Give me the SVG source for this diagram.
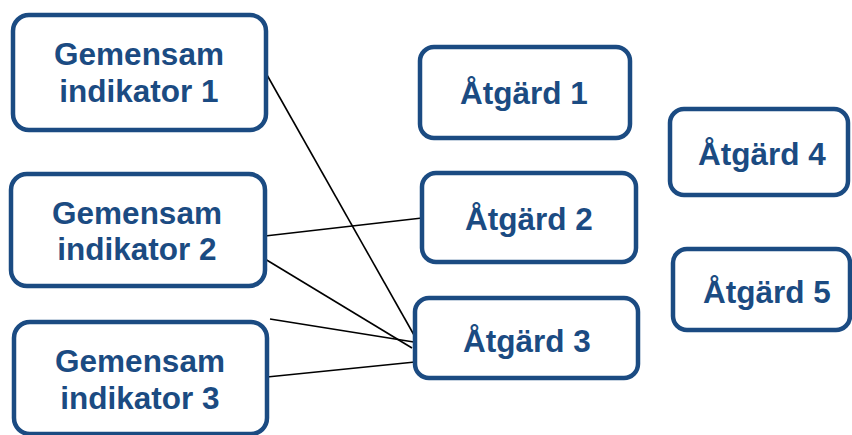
<svg xmlns="http://www.w3.org/2000/svg" width="852" height="435" viewBox="0 0 852 435">
<style>
.box{fill:#fff;stroke:#1b4b82;stroke-width:4.5}
.t{font-family:"Liberation Sans",Arial,sans-serif;font-weight:bold;font-size:31.5px;fill:#1b4b82;text-anchor:middle}
.c{stroke:#000;stroke-width:1.6;fill:none}
</style>
<rect width="852" height="435" fill="#fff"/>
<g id="connectors">
<line class="c" x1="267" y1="75" x2="414" y2="335"/>
<line class="c" x1="265" y1="236" x2="422" y2="218"/>
<line class="c" x1="265" y1="259" x2="412" y2="348"/>
<line class="c" x1="270" y1="319" x2="420" y2="343"/>
<line class="c" x1="267" y1="377" x2="415" y2="362"/>
</g>
<g id="g1"><rect class="box" x="13" y="15" width="253" height="115" rx="16"/><text class="t" x="139" y="65">Gemensam</text><text class="t" x="139" y="102">indikator 1</text></g>
<g id="g2"><rect class="box" x="11" y="174" width="254" height="112" rx="16"/><text class="t" x="137" y="224">Gemensam</text><text class="t" x="137" y="260">indikator 2</text></g>
<g id="g3"><rect class="box" x="14" y="322" width="253" height="112" rx="16"/><text class="t" x="140" y="372">Gemensam</text><text class="t" x="140" y="409">indikator 3</text></g>
<g id="a1"><rect class="box" x="420" y="47" width="210" height="91" rx="14"/><text class="t" x="524" y="104">Åtgärd 1</text></g>
<g id="a2"><rect class="box" x="422" y="173" width="214" height="89" rx="14"/><text class="t" x="529" y="230">Åtgärd 2</text></g>
<g id="a3"><rect class="box" x="415" y="298" width="223" height="80" rx="14"/><text class="t" x="527" y="352">Åtgärd 3</text></g>
<g id="a4"><rect class="box" x="670" y="109" width="178" height="86" rx="14"/><text class="t" x="762" y="165">Åtgärd 4</text></g>
<g id="a5"><rect class="box" x="673" y="249" width="177" height="81" rx="14"/><text class="t" x="767" y="303">Åtgärd 5</text></g>
</svg>
